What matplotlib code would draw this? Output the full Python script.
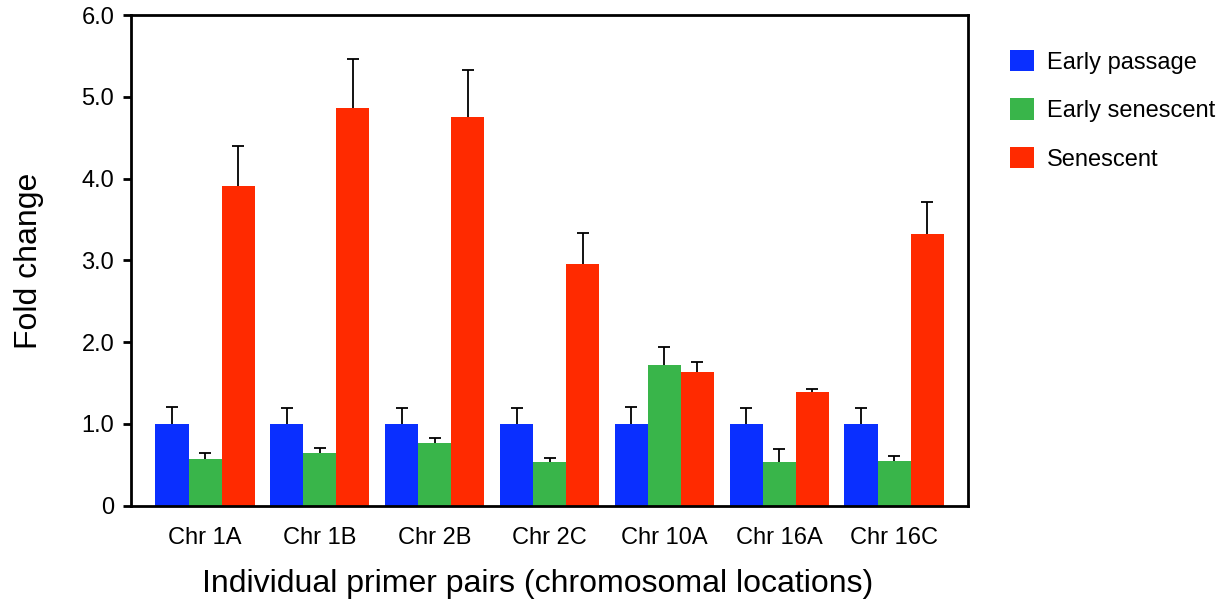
import numpy as np
import matplotlib.pyplot as plt

plt.rcParams['font.family'] = ['Liberation Sans', 'DejaVu Sans']

categories = ['Chr 1A', 'Chr 1B', 'Chr 2B', 'Chr 2C', 'Chr 10A', 'Chr 16A', 'Chr 16C']
series = ['Early passage', 'Early senescent', 'Senescent']
colors = ['#0a2fff', '#39b54a', '#ff2a00']

early_passage = [1.0, 1.0, 1.0, 1.0, 1.0, 1.0, 1.0]
early_passage_err = [0.21, 0.19, 0.20, 0.20, 0.21, 0.19, 0.19]
early_senescent = [0.57, 0.65, 0.77, 0.54, 1.72, 0.53, 0.55]
early_senescent_err = [0.08, 0.06, 0.06, 0.05, 0.22, 0.17, 0.06]
senescent = [3.91, 4.86, 4.75, 2.96, 1.64, 1.39, 3.32]
senescent_err = [0.49, 0.60, 0.58, 0.38, 0.12, 0.04, 0.40]

values = [early_passage, early_senescent, senescent]
errors = [early_passage_err, early_senescent_err, senescent_err]

fig = plt.figure(figsize=(12.24, 6), dpi=100)
ax = fig.add_axes([0.107, 0.157, 0.684, 0.818])

x = np.arange(len(categories))
w = 0.288
for i in range(3):
    bars = ax.bar(x + (i - 1) * w, values[i], w, color=colors[i], label=series[i],
                  yerr=[np.zeros(len(categories)), errors[i]],
                  error_kw=dict(ecolor='black', elinewidth=1.3, capsize=4.5, capthick=1.3))
    # only the upper cap is drawn in the original
    bars.errorbar.lines[1][0].set_visible(False)

ax.set_xlim(-0.645, 6.645)
ax.set_ylim(0, 6)
ax.set_yticks(range(7))
ax.set_yticklabels(['0', '1.0', '2.0', '3.0', '4.0', '5.0', '6.0'], fontsize=17)
ax.set_xticks(x)
ax.set_xticklabels(categories, fontsize=17)
ax.tick_params(axis='x', length=0, pad=15)
ax.tick_params(axis='y', length=6, width=2, pad=6)
for s in ax.spines.values():
    s.set_linewidth(2)

ax.set_ylabel('Fold change', fontsize=23, labelpad=27)
ax.set_xlabel('Individual primer pairs (chromosomal locations)', fontsize=23, labelpad=15)
ax.xaxis.label.set_x(0.486)

ax.legend(loc='upper left', bbox_to_anchor=(1.025, 0.972), frameon=False, fontsize=17,
          handlelength=1.0, handleheight=1.0, labelspacing=1.05, handletextpad=0.55)

fig.savefig('out.png', dpi=100)
